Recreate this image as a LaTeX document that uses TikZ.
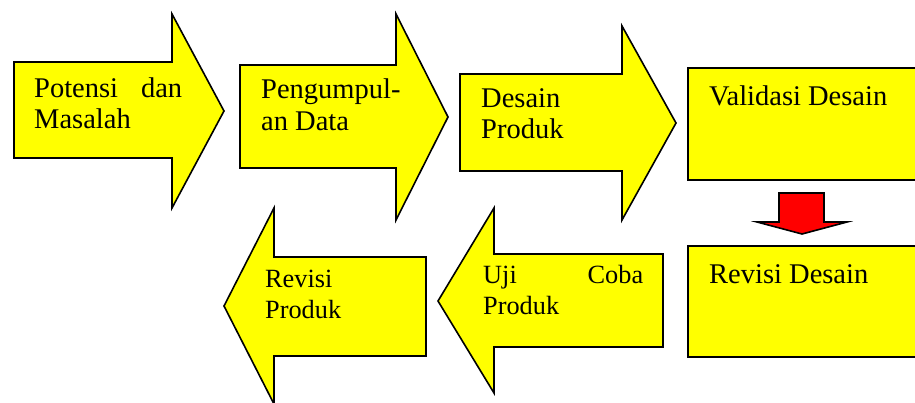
\documentclass[tikz,border=0pt]{standalone}
\usepackage{xcolor}
\usepackage{fontspec}
\setmainfont{Liberation Serif}
\usepackage{tikz}
\definecolor{kuning}{RGB}{255,255,0}
\definecolor{merah}{RGB}{255,0,0}

\begin{document}
\begin{tikzpicture}[x=1pt,y=-1pt,
    blok/.style={draw=black,fill=kuning,line width=1.6pt},
    teks/.style={draw=none,anchor=base west,inner sep=0pt,align=left,font=\fontsize{28.5}{31.5}\selectfont},
    tekskecil/.style={teks,font=\fontsize{26.3}{31}\selectfont}]
             \useasboundingbox (0,0) rectangle (915,402);

             \draw[blok] (14,62) -- (172,62) -- (172,14) -- (224,111) -- (172,208) -- (172,158) -- (14,158) -- cycle;
             \draw[blok] (240,65) -- (396,65) -- (396,14) -- (448,117) -- (396,220) -- (396,168) -- (240,168) -- cycle;
             \draw[blok] (460,74) -- (622,74) -- (622,26) -- (676,123) -- (622,220) -- (622,171) -- (460,171) -- cycle;
             \draw[blok] (688,68) rectangle (918,180);
             \draw[blok] (688,246) rectangle (918,357);
             \draw[blok] (663,254) -- (494,254) -- (494,208) -- (438,301) -- (494,393) -- (494,347) -- (663,347) -- cycle;
             \draw[blok] (426,257) -- (274,257) -- (274,208) -- (224,306) -- (274,404) -- (274,356) -- (426,356) -- cycle;
             \draw[blok,fill=merah] (779,193) -- (824,193) -- (824,222) -- (847,222) -- (802,234) -- (757,222) -- (779,222) -- cycle;

             \node[teks] (potensi) at (34,128.5) {\makebox[148pt][s]{Potensi dan}\\Masalah};
             \node[teks] (pengumpulan) at (261,130) {Pengumpul-\\an Data};
             \node[teks] (desain) at (481,138.5) {Desain\\Produk};
             \node[teks] (validasi) at (709,105) {Validasi Desain};
             \node[teks] (revisidesain) at (709,283) {Revisi Desain};
             \node[tekskecil] (ujicoba) at (483,314) {\makebox[160pt][s]{Uji Coba}\\Produk};
             \node[tekskecil] (revisiproduk) at (265,318) {Revisi\\Produk};
\end{tikzpicture}
\end{document}
